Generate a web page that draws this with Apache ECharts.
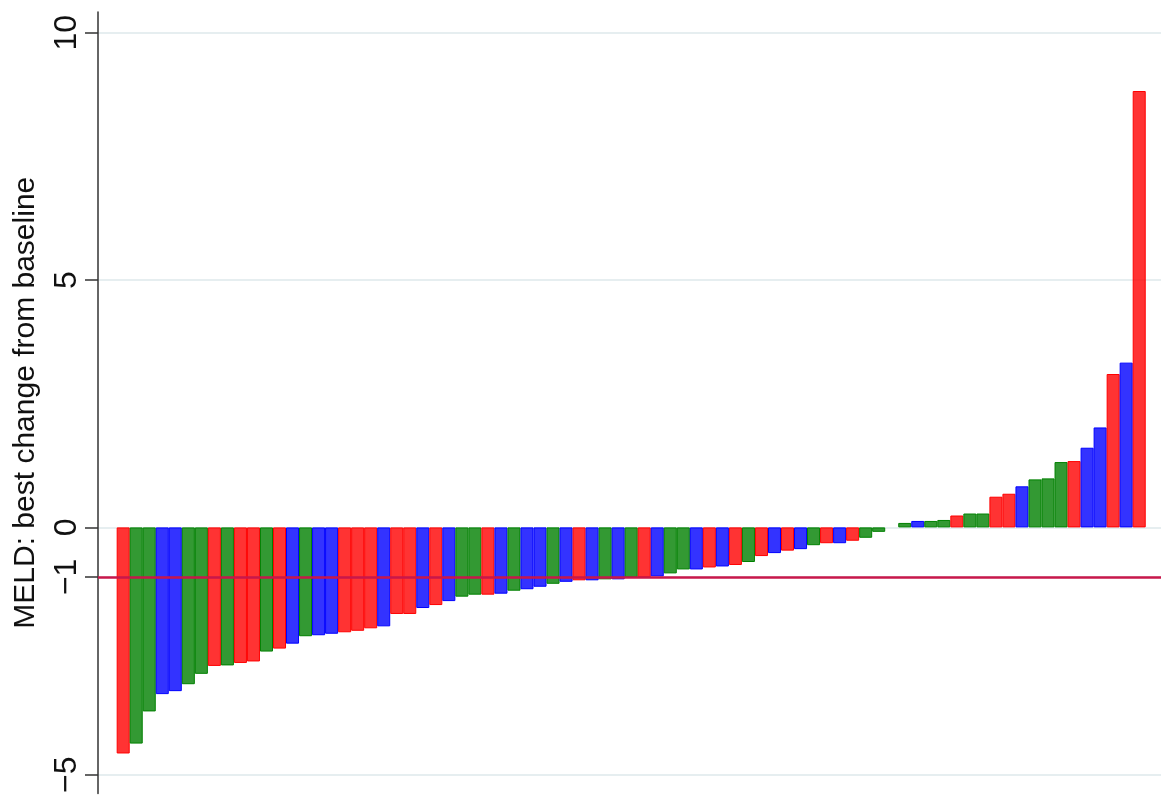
<!DOCTYPE html>
<html>
<head>
<meta charset="utf-8">
<title>MELD: best change from baseline</title>
<script src="https://cdn.jsdelivr.net/npm/echarts@6/dist/echarts.min.js"></script>
<style>
  html, body { margin: 0; padding: 0; background: #ffffff; }
  #chart { width: 1161px; height: 796px; }
</style>
</head>
<body>
<div id="chart"></div>
<script>
// Patients ordered by their best MELD change from baseline
const patients = Array.from({ length: 79 }, (_, i) => i + 1);

const meldChange = [
  -4.57, -4.37, -3.72, -3.37, -3.31, -3.17, -2.96, -2.80, -2.79, -2.74,
  -2.71, -2.51, -2.45, -2.35, -2.20, -2.18, -2.15, -2.12, -2.09, -2.04,
  -2.00, -1.75, -1.75, -1.63, -1.57, -1.49, -1.40, -1.36, -1.36, -1.34,
  -1.28, -1.25, -1.20, -1.14, -1.10, -1.07, -1.07, -1.05, -1.05, -1.01,
  -1.01, -0.99, -0.93, -0.85, -0.85, -0.81, -0.79, -0.76, -0.70, -0.58,
  -0.52, -0.47, -0.44, -0.36, -0.32, -0.32, -0.27, -0.21, -0.09, 0,
   0.09,  0.13,  0.13,  0.15,  0.24,  0.28,  0.28,  0.62,  0.68,  0.83,
   0.97,  0.99,  1.32,  1.34,  1.61,  2.02,  3.10,  3.33,  8.82
];

// Group of each patient: R = red, G = green, B = blue
const groups = [
  'R','G','G','B','B','G','G','R','G','R',
  'R','G','R','B','G','B','B','R','R','R',
  'B','R','R','B','R','B','G','G','R','B',
  'G','B','B','G','B','R','B','G','B','G',
  'R','B','G','G','B','R','B','R','G','R',
  'B','R','B','G','R','B','R','G','G','G',
  'G','B','G','G','R','G','G','R','R','B',
  'G','G','G','R','B','B','R','B','R'
];

const yTicks = [-5, -1, 0, 5, 10];
const thresholdValue = -1;

const palette = {
  R: { fill: 'rgba(255,0,0,0.8)', edge: '#ff0000' },
  G: { fill: 'rgba(0,128,0,0.8)', edge: '#008000' },
  B: { fill: 'rgba(0,0,255,0.8)', edge: '#0000ff' }
};

const barData = patients.map((p, i) => ({
  value: [p, meldChange[i]],
  itemStyle: {
    color: palette[groups[i]].fill,
    borderColor: palette[groups[i]].edge,
    borderWidth: meldChange[i] === 0 ? 0 : 1
  }
}));

const fontFamily = '"Liberation Sans", Arial, Helvetica, sans-serif';

const chart = echarts.init(document.getElementById('chart'), null, { renderer: 'canvas' });

chart.setOption({
  animation: false,
  backgroundColor: '#ffffff',
  grid: { left: 98, right: 0, top: 12, bottom: 0, containLabel: false },
  xAxis: {
    type: 'value',
    min: -0.934,
    max: 80.673,
    show: false
  },
  yAxis: {
    type: 'value',
    min: -5.377,
    max: 10.417,
    name: 'MELD: best change from baseline',
    nameLocation: 'middle',
    nameRotate: 90,
    nameGap: 57,
    nameTextStyle: { fontFamily, fontSize: 30, color: '#111111' },
    axisLine: { show: true, onZero: false, lineStyle: { color: '#333333', width: 1.5 } },
    axisTick: {
      show: true,
      length: 13,
      customValues: yTicks,
      lineStyle: { color: '#333333', width: 1.5 }
    },
    axisLabel: {
      customValues: yTicks,
      rotate: 90,
      margin: 15,
      fontFamily,
      fontSize: 32,
      color: '#111111',
      formatter: v => (v < 0 ? '\u2212' + Math.abs(v) : String(v))
    },
    splitLine: {
      show: true,
      lineStyle: { color: '#e6eef0', width: 2 }
    }
  },
  series: [
    {
      type: 'bar',
      data: barData,
      barWidth: 13.03,
      barGap: '0%',
      z: 2,
      markLine: {
        silent: true,
        symbol: 'none',
        label: { show: false },
        lineStyle: { color: '#c8174b', width: 2.5, type: 'solid' },
        data: [{ yAxis: thresholdValue }]
      }
    }
  ]
});
</script>
</body>
</html>
